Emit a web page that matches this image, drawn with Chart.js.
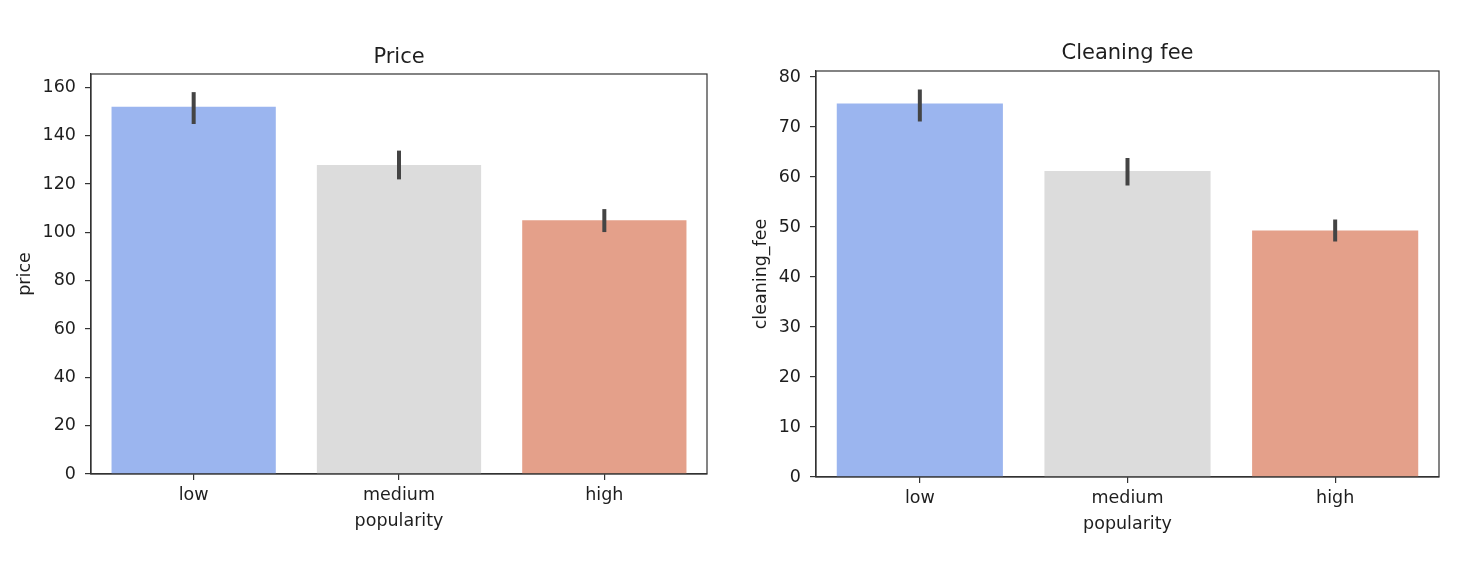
<!DOCTYPE html>
<html>
<head>
<meta charset="utf-8">
<script src="https://cdn.jsdelivr.net/npm/chart.js@4.4.0/dist/chart.umd.min.js"></script>
<style>
  html, body { margin: 0; padding: 0; background: #fff; }
  #wrap { position: relative; width: 1478px; height: 564px; }
  .box { position: absolute; top: 0; width: 739px; height: 564px; }
</style>
</head>
<body>
<div id="wrap">
  <div class="box" style="left:0"><canvas id="priceChart"></canvas></div>
  <div class="box" style="left:739px"><canvas id="feeChart"></canvas></div>
</div>
<script>
const categories = ['low', 'medium', 'high'];
const barColors = ['#9bb5ef', '#dcdcdc', '#e4a08a'];

const priceMean = [152.0, 127.8, 105.0];
const priceErrLow = [144.8, 121.9, 100.1];
const priceErrHigh = [158.0, 133.8, 109.6];

const feeMean = [74.7, 61.2, 49.3];
const feeErrLow = [71.1, 58.3, 47.1];
const feeErrHigh = [77.5, 63.8, 51.5];

const fontFamily = "'DejaVu Sans', sans-serif";
const textColor = '#1e1e1e';
const lineColor = '#333';
const labelSize = 17.5;

// Fehlerbalken + Rahmen um die Achsen
const errorBarPlugin = {
  id: 'errorBars',
  afterDatasetsDraw(chart, args, opts) {
    const { ctx, scales } = chart;
    const meta = chart.getDatasetMeta(0);
    ctx.save();
    ctx.strokeStyle = '#444';
    ctx.lineWidth = 4;
    ctx.lineCap = 'butt';
    meta.data.forEach((bar, i) => {
      ctx.beginPath();
      ctx.moveTo(bar.x, scales.y.getPixelForValue(opts.low[i]));
      ctx.lineTo(bar.x, scales.y.getPixelForValue(opts.high[i]));
      ctx.stroke();
    });
    const a = chart.chartArea;
    ctx.strokeStyle = lineColor;
    ctx.lineWidth = 1.2;
    ctx.strokeRect(a.left, a.top, a.right - a.left, a.bottom - a.top);
    ctx.restore();
  }
};

function renderChart(id, cfg) {
  const ctx = document.getElementById(id).getContext('2d');
  return new Chart(ctx, {
    type: 'bar',
    data: {
      labels: categories,
      datasets: [{
        data: cfg.values,
        backgroundColor: barColors,
        borderWidth: 0,
        categoryPercentage: 0.8,
        barPercentage: 1.0
      }]
    },
    options: {
      responsive: false,
      animation: false,
      maintainAspectRatio: false,
      layout: { padding: { left: 0, top: 0, right: cfg.padRight, bottom: 0 } },
      scales: {
        x: {
          offset: true,
          grid: { display: true, offset: false, drawOnChartArea: false, drawTicks: true, tickLength: 6, color: lineColor, lineWidth: 1.2 },
          border: { display: true, color: lineColor, width: 1.2 },
          ticks: { color: textColor, font: { family: fontFamily, size: labelSize }, padding: 5 },
          title: { display: true, text: 'popularity', color: textColor, font: { family: fontFamily, size: labelSize }, padding: { top: 0, bottom: cfg.xTitlePad } },
          afterFit: (scale) => { scale.height = cfg.xHeight; }
        },
        y: {
          min: 0,
          max: cfg.yMax,
          grid: { display: true, drawOnChartArea: false, drawTicks: true, tickLength: 6, color: lineColor, lineWidth: 1.2 },
          border: { display: true, color: lineColor, width: 1.2 },
          ticks: { stepSize: cfg.step, includeBounds: false, color: textColor, font: { family: fontFamily, size: labelSize }, padding: 9 },
          title: { display: true, text: cfg.yLabel, color: textColor, font: { family: fontFamily, size: labelSize }, padding: { top: cfg.yTitlePad, bottom: 0 } },
          afterFit: (scale) => { scale.width = cfg.yWidth; }
        }
      },
      plugins: {
        legend: { display: false },
        tooltip: { enabled: false },
        title: {
          display: true,
          fullSize: false,
          text: cfg.title,
          color: textColor,
          font: { family: fontFamily, size: 21, weight: 'normal' },
          padding: { top: cfg.titleTop, bottom: cfg.titleBottom }
        },
        errorBars: { low: cfg.errLow, high: cfg.errHigh }
      }
    },
    plugins: [errorBarPlugin]
  });
}

document.getElementById('priceChart').width = 739;
document.getElementById('priceChart').height = 564;
document.getElementById('feeChart').width = 739;
document.getElementById('feeChart').height = 564;

renderChart('priceChart', {
  title: 'Price', yLabel: 'price', values: priceMean, errLow: priceErrLow, errHigh: priceErrHigh,
  yMax: 165.5, step: 20, padRight: 32, yWidth: 91, xHeight: 90,
  titleTop: 45.4, titleBottom: 3.4, xTitlePad: 32.5, yTitlePad: 14.5
});

renderChart('feeChart', {
  title: 'Cleaning fee', yLabel: 'cleaning_fee', values: feeMean, errLow: feeErrLow, errHigh: feeErrHigh,
  yMax: 81.2, step: 10, padRight: 39, yWidth: 77, xHeight: 87,
  titleTop: 41.4, titleBottom: 4.4, xTitlePad: 29.5, yTitlePad: 11.5
});
</script>
</body>
</html>
